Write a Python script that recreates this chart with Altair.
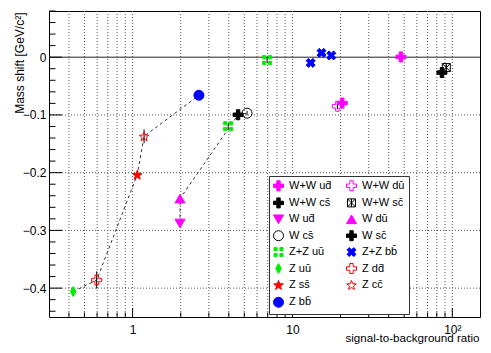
import math
import altair as alt
import pandas as pd

OB = "\u0304"  # combining macron (anti-quark bar)

# ---------------- data ----------------
names = [
    "W+W u" + "d" + OB, "W+W d" + "u" + OB,
    "W+W c" + "s" + OB, "W+W s" + "c" + OB,
    "W u" + "d" + OB, "W d" + "u" + OB,
    "W c" + "s" + OB, "W s" + "c" + OB,
    "Z+Z u" + "u" + OB, "Z+Z b" + "b" + OB,
    "Z u" + "u" + OB, "Z d" + "d" + OB,
    "Z s" + "s" + OB, "Z c" + "c" + OB,
    "Z b" + "b" + OB,
]

pt_series = [names[0], names[0], names[1], names[2], names[3],
             names[4], names[5], names[6], names[7],
             names[8], names[8], names[9], names[9], names[9],
             names[10], names[11], names[12], names[13], names[14]]
pt_x = [47.7, 20.5, 19.1, 86.1, 91.7,
        1.98, 1.98, 5.2, 4.57,
        3.96, 6.94, 13.0, 15.2, 17.5,
        0.425, 0.596, 1.07, 1.18, 2.6]
pt_y = [0.0005, -0.0795, -0.085, -0.0266, -0.018,
        -0.288, -0.245, -0.097, -0.0997,
        -0.1195, -0.005, -0.0099, 0.0075, 0.003,
        -0.406, -0.386, -0.2035, -0.137, -0.066]
pt_err = [0.004, 0.005, 0.005, 0.005, 0.005,
          0.004, 0.004, 0.004, 0.004,
          0.006, 0.005, 0.004, 0.004, 0.004,
          0.006, 0.015, 0.004, 0.012, 0.003]

z_chain = [names[10], names[11], names[12], names[13], names[14]]
w_chain = [names[4], names[5], names[7], names[6]]

x_major = [1, 10, 100]
x_minor = [0.4, 0.5, 0.6, 0.7, 0.8, 0.9, 2, 3, 4, 5, 6, 7, 8, 9,
           20, 30, 40, 50, 60, 70, 80, 90]
y_major = [0, -0.1, -0.2, -0.3, -0.4]
y_minor = [0.08, 0.06, 0.04, 0.02, -0.02, -0.04, -0.06, -0.08,
           -0.12, -0.14, -0.16, -0.18, -0.22, -0.24, -0.26, -0.28,
           -0.32, -0.34, -0.36, -0.38, -0.42, -0.44]
y_grid = [-0.1, -0.2, -0.3, -0.4]

# ---------------- marker shapes (style) ----------------
def poly(pts):
    return "M" + "L".join(f"{x:.3f},{y:.3f}" for x, y in pts) + "Z"

a = 0.34
cross_pts = [(-a, -1), (a, -1), (a, -a), (1, -a), (1, a), (a, a), (a, 1), (-a, 1),
             (-a, a), (-1, a), (-1, -a), (-a, -a)]
CROSS = poly(cross_pts)
c45 = math.cos(math.pi / 4)
XCROSS = poly([((x - y) * c45 * 0.95, (x + y) * c45 * 0.95) for x, y in cross_pts])
star_pts = []
for i in range(10):
    r = 1.0 if i % 2 == 0 else 0.42
    ang = -math.pi / 2 + i * math.pi / 5
    star_pts.append((r * math.cos(ang), r * math.sin(ang) + 0.1))
STAR = poly(star_pts)
# four blobs separated by a cross-shaped gap (ROOT four-squares marker)
FOUR = ("M-0.9,-0.9h0.62v0.62h-0.62z M0.28,-0.9h0.62v0.62h-0.62z "
        "M-0.9,0.28h0.62v0.62h-0.62z M0.28,0.28h0.62v0.62h-0.62z")
DIAM = "M0,-1L0.55,0L0,1L-0.55,0Z"
BOXX = "M-0.8,-0.8L0.8,-0.8L0.8,0.8L-0.8,0.8Z M-0.8,-0.8L0.8,0.8 M0.8,-0.8L-0.8,0.8 M0,-0.8L0,0.8"

MAG, BLK, GRN, BLU, RED = "#ff00ff", "#000000", "#00ee00", "#0000ff", "#ff0000"
NONE = "transparent"
shapes = [CROSS, CROSS, CROSS, BOXX,
          "triangle-down", "triangle-up", "circle", CROSS,
          FOUR, XCROSS, DIAM, CROSS, STAR, STAR, "circle"]
strokes = [MAG, MAG, BLK, BLK, MAG, MAG, BLK, BLK, GRN, BLU, GRN, RED, RED, RED, BLU]
fills = [MAG, NONE, BLK, NONE, MAG, MAG, NONE, BLK, GRN, BLU, GRN, NONE, RED, NONE, BLU]

# ---------------- tables ----------------
pts = pd.DataFrame({"series": pt_series, "x": pt_x, "y": pt_y, "err": pt_err})
pts["lo"] = pts["y"] - pts["err"]
pts["hi"] = pts["y"] + pts["err"]

rows = []
for g, chain in (("Z", z_chain), ("W", w_chain)):
    for k, s in enumerate(chain):
        r = pts[pts["series"] == s].iloc[0]
        rows.append({"g": g, "ord": k, "x": r["x"], "y": r["y"]})
lines = pd.DataFrame(rows)

W, H = 431, 306
FONT = "Liberation Sans"
xs = alt.Scale(type="log", domain=[0.3, 149], nice=False)
ys = alt.Scale(domain=[-0.45, 0.08], nice=False, zero=False)

xaxis = alt.Axis(values=x_major, ticks=False, domain=False, grid=False,
                 labelExpr="datum.value == 100 ? '10\u00b2' : datum.label",
                 labelFont=FONT, labelFontSize=12, labelColor="black",
                 labelBaseline="alphabetic", labelPadding=16, labelFlush=False,
                 title="signal-to-background ratio", titleFont=FONT, titleFontSize=11.6,
                 titleFontWeight="normal", titleColor="black", titleAnchor="end",
                 titleAlign="right", titleBaseline="alphabetic", titleX=W - 1, titleY=24)
yaxis = alt.Axis(values=y_major, ticks=False, domain=False, grid=False,
                 labelExpr="datum.value == 0 ? '0' : format(datum.value, '.1f')",
                 labelFont=FONT, labelFontSize=12, labelColor="black", labelPadding=3,
                 title="Mass shift [GeV/c\u00b2]", titleFont=FONT, titleFontSize=12,
                 titleFontWeight="normal", titleColor="black", titleAngle=-90,
                 titleAlign="right", titleBaseline="alphabetic", titleX=-26, titleY=1)

def X(f):
    return alt.X(f, scale=xs, axis=xaxis)

def Y(f):
    return alt.Y(f, scale=ys, axis=yaxis)

GRIDC = "#555555"
grid_x = alt.Chart(pd.DataFrame({"v": x_major + x_minor})).mark_rule(
    color=GRIDC, strokeDash=[1, 2], strokeWidth=1).encode(x=X("v:Q"))
grid_y = alt.Chart(pd.DataFrame({"v": y_grid})).mark_rule(
    color=GRIDC, strokeDash=[1, 2], strokeWidth=1).encode(y=Y("v:Q"))
zero = alt.Chart(pd.DataFrame({"v": [0]})).mark_rule(color="#222222", strokeWidth=1).encode(
    y=Y("v:Q"))

def xticks(vals, L):
    return alt.Chart(pd.DataFrame({"v": vals})).mark_rule(color="black", strokeWidth=1).encode(
        x=X("v:Q"), y=alt.value(H), y2=alt.value(H - L))

def yticks(vals, L):
    return alt.Chart(pd.DataFrame({"v": vals})).mark_rule(color="black", strokeWidth=1).encode(
        y=Y("v:Q"), x=alt.value(0), x2=alt.value(L))

dash = alt.Chart(lines).mark_line(color="#333333", strokeDash=[3, 3], strokeWidth=1).encode(
    x=X("x:Q"), y=Y("y:Q"), detail="g:N", order="ord:Q")

errs = alt.Chart(pts).mark_rule(color="black", strokeWidth=1).encode(
    x=X("x:Q"), y=Y("lo:Q"), y2="hi:Q")

leg = alt.Legend(title=None, orient="none", legendX=220, legendY=165, columns=2,
                 direction="horizontal",
                 fillColor="white", strokeColor="#333333", padding=4,
                 labelFont=FONT, labelFontSize=11, labelColor="black",
                 labelExpr="datum.label + '\u00a0\u00a0\u00a0\u00a0\u00a0\u00a0'",
                 symbolSize=100, symbolStrokeWidth=1, rowPadding=2.4,
                 columnPadding=12, labelOffset=5, labelLimit=250)

points = alt.Chart(pts).mark_point(opacity=1, fillOpacity=1, strokeWidth=1, size=100).encode(
    x=X("x:Q"),
    y=Y("y:Q"),
    shape=alt.Shape("series:N", scale=alt.Scale(domain=names, range=shapes), legend=leg),
    fill=alt.Fill("series:N", scale=alt.Scale(domain=names, range=fills), legend=leg),
    stroke=alt.Stroke("series:N", scale=alt.Scale(domain=names, range=strokes), legend=leg),
)

chart = alt.layer(
    grid_x, grid_y, zero,
    xticks(x_major, 9), xticks(x_minor, 4.6),
    yticks(y_major, 13), yticks(y_minor, 6.5),
    dash, errs, points,
).properties(
    width=W, height=H,
    autosize=alt.AutoSizeParams(type="none"),
    padding={"left": 41, "top": 3, "right": 3, "bottom": 28},
    background="white",
).configure_view(stroke="black", strokeWidth=1)

chart.save("out.html", embed_options={"renderer": "svg", "actions": False})
